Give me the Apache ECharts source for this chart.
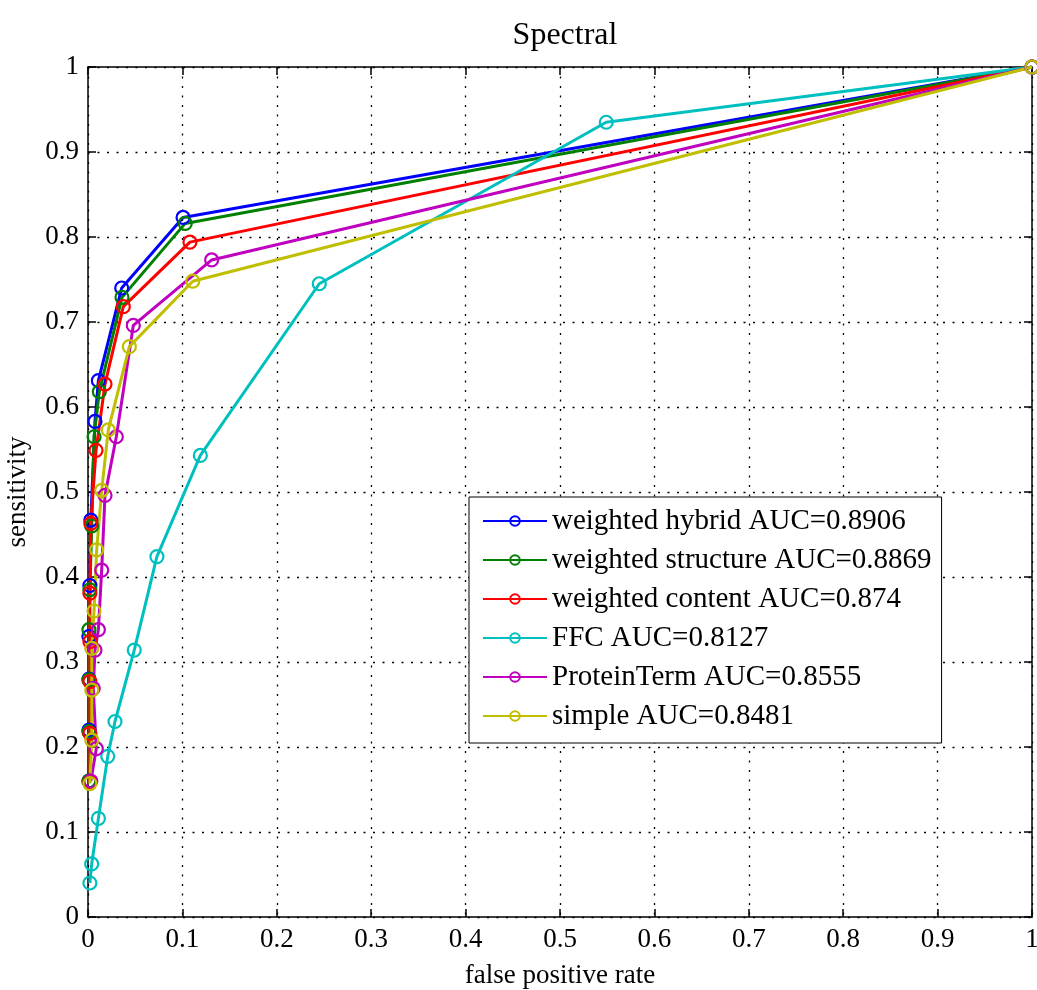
<!DOCTYPE html>
<html>
<head>
<meta charset="utf-8">
<script src="https://cdn.jsdelivr.net/npm/echarts@6/dist/echarts.min.js"></script>
<style>html,body{margin:0;padding:0;background:#fff;overflow:hidden;}#c{width:1037px;height:990px;}</style>
</head>
<body>
<div id="c"></div>
<script>
const seriesNames = [
  'weighted hybrid AUC=0.8906',
  'weighted structure AUC=0.8869',
  'weighted content AUC=0.874',
  'FFC AUC=0.8127',
  'ProteinTerm AUC=0.8555',
  'simple AUC=0.8481'
];
const seriesColors = ['#0000ff', '#008000', '#ff0000', '#00bfbf', '#bf00bf', '#bfbf00'];

const hybrid = [[0.001,0.16],[0.001,0.22],[0.001,0.28],[0.001,0.33],[0.002,0.39],[0.003,0.467],[0.0074,0.583],[0.011,0.631],[0.0357,0.740],[0.1007,0.823],[1,1]];
const structure = [[0.001,0.16],[0.001,0.218],[0.001,0.279],[0.001,0.338],[0.002,0.385],[0.004,0.46],[0.0064,0.565],[0.012,0.618],[0.036,0.729],[0.103,0.816],[1,1]];
const content = [[0.002,0.159],[0.002,0.216],[0.002,0.277],[0.002,0.324],[0.002,0.381],[0.003,0.463],[0.0085,0.549],[0.018,0.627],[0.0374,0.718],[0.108,0.794],[1,1]];
const ffc = [[0.002,0.040],[0.0039,0.0624],[0.011,0.116],[0.0209,0.189],[0.0286,0.230],[0.049,0.314],[0.073,0.424],[0.119,0.543],[0.245,0.745],[0.549,0.935],[1,1]];
const proteinTerm = [[0.003,0.16],[0.0088,0.198],[0.0056,0.269],[0.0074,0.314],[0.011,0.338],[0.0145,0.408],[0.018,0.496],[0.030,0.565],[0.048,0.696],[0.131,0.773],[1,1]];
const simple = [[0.002,0.157],[0.004,0.208],[0.004,0.267],[0.004,0.316],[0.0064,0.360],[0.0092,0.432],[0.0145,0.502],[0.0215,0.573],[0.0438,0.671],[0.111,0.748],[1,1]];
const allData = [hybrid, structure, content, ffc, proteinTerm, simple];

const FONT = 'Liberation Serif';
const chart = echarts.init(document.getElementById('c'), null, {renderer: 'canvas'});

function axisBase(extra) {
  return Object.assign({
    type: 'value', min: 0, max: 1, interval: 0.1,
    axisLine: {show: true, onZero: false, lineStyle: {color: '#000', width: 1.5}},
    axisTick: {show: true, inside: true, length: 8, lineStyle: {color: '#000', width: 1.5}},
    splitLine: {show: false},
    axisLabel: {color: '#000', fontFamily: FONT, fontSize: 27, margin: 9}
  }, extra);
}

const gridLine = {show: true, lineStyle: {color: '#000', width: 1.3, type: [2, 7.5]}};

chart.setOption({
  animation: false,
  backgroundColor: '#fff',
  title: {
    text: 'Spectral', left: 560, top: 15, textAlign: 'center',
    textStyle: {fontFamily: FONT, fontSize: 32, fontWeight: 'normal', color: '#000'}
  },
  grid: {left: 88, right: 5, top: 67, bottom: 73, containLabel: false, outerBoundsMode: 'none'},
  legend: {
    orient: 'vertical', left: 469, top: 497,
    data: seriesNames,
    backgroundColor: '#fff', borderColor: '#000', borderWidth: 1,
    padding: [9, 10, 12, 13],
    itemWidth: 64, itemHeight: 12, itemGap: 9,
    textStyle: {fontFamily: FONT, fontSize: 29, color: '#000', lineHeight: 30}
  },
  xAxis: [
    axisBase({
      position: 'bottom',
      name: 'false positive rate', nameLocation: 'middle', nameGap: 45,
      nameTextStyle: {fontFamily: FONT, fontSize: 27, color: '#000'},
      splitLine: gridLine
    }),
    axisBase({position: 'top', axisLabel: {show: false}})
  ],
  yAxis: [
    axisBase({
      position: 'left',
      name: 'sensitivity', nameLocation: 'middle', nameGap: 57,
      nameTextStyle: {fontFamily: FONT, fontSize: 27, color: '#000'},
      splitLine: gridLine
    }),
    axisBase({position: 'right', axisLabel: {show: false}})
  ],
  series: allData.map((d, i) => ({
    name: seriesNames[i],
    type: 'line',
    data: d,
    xAxisIndex: 0, yAxisIndex: 0,
    symbol: 'circle', symbolSize: 13,
    showSymbol: true,
    color: seriesColors[i],
    lineStyle: {color: seriesColors[i], width: 3},
    itemStyle: {color: 'rgba(0,0,0,0)', borderColor: seriesColors[i], borderWidth: 2.2},
    emphasis: {disabled: true}
  }))
});
</script>
</body>
</html>
